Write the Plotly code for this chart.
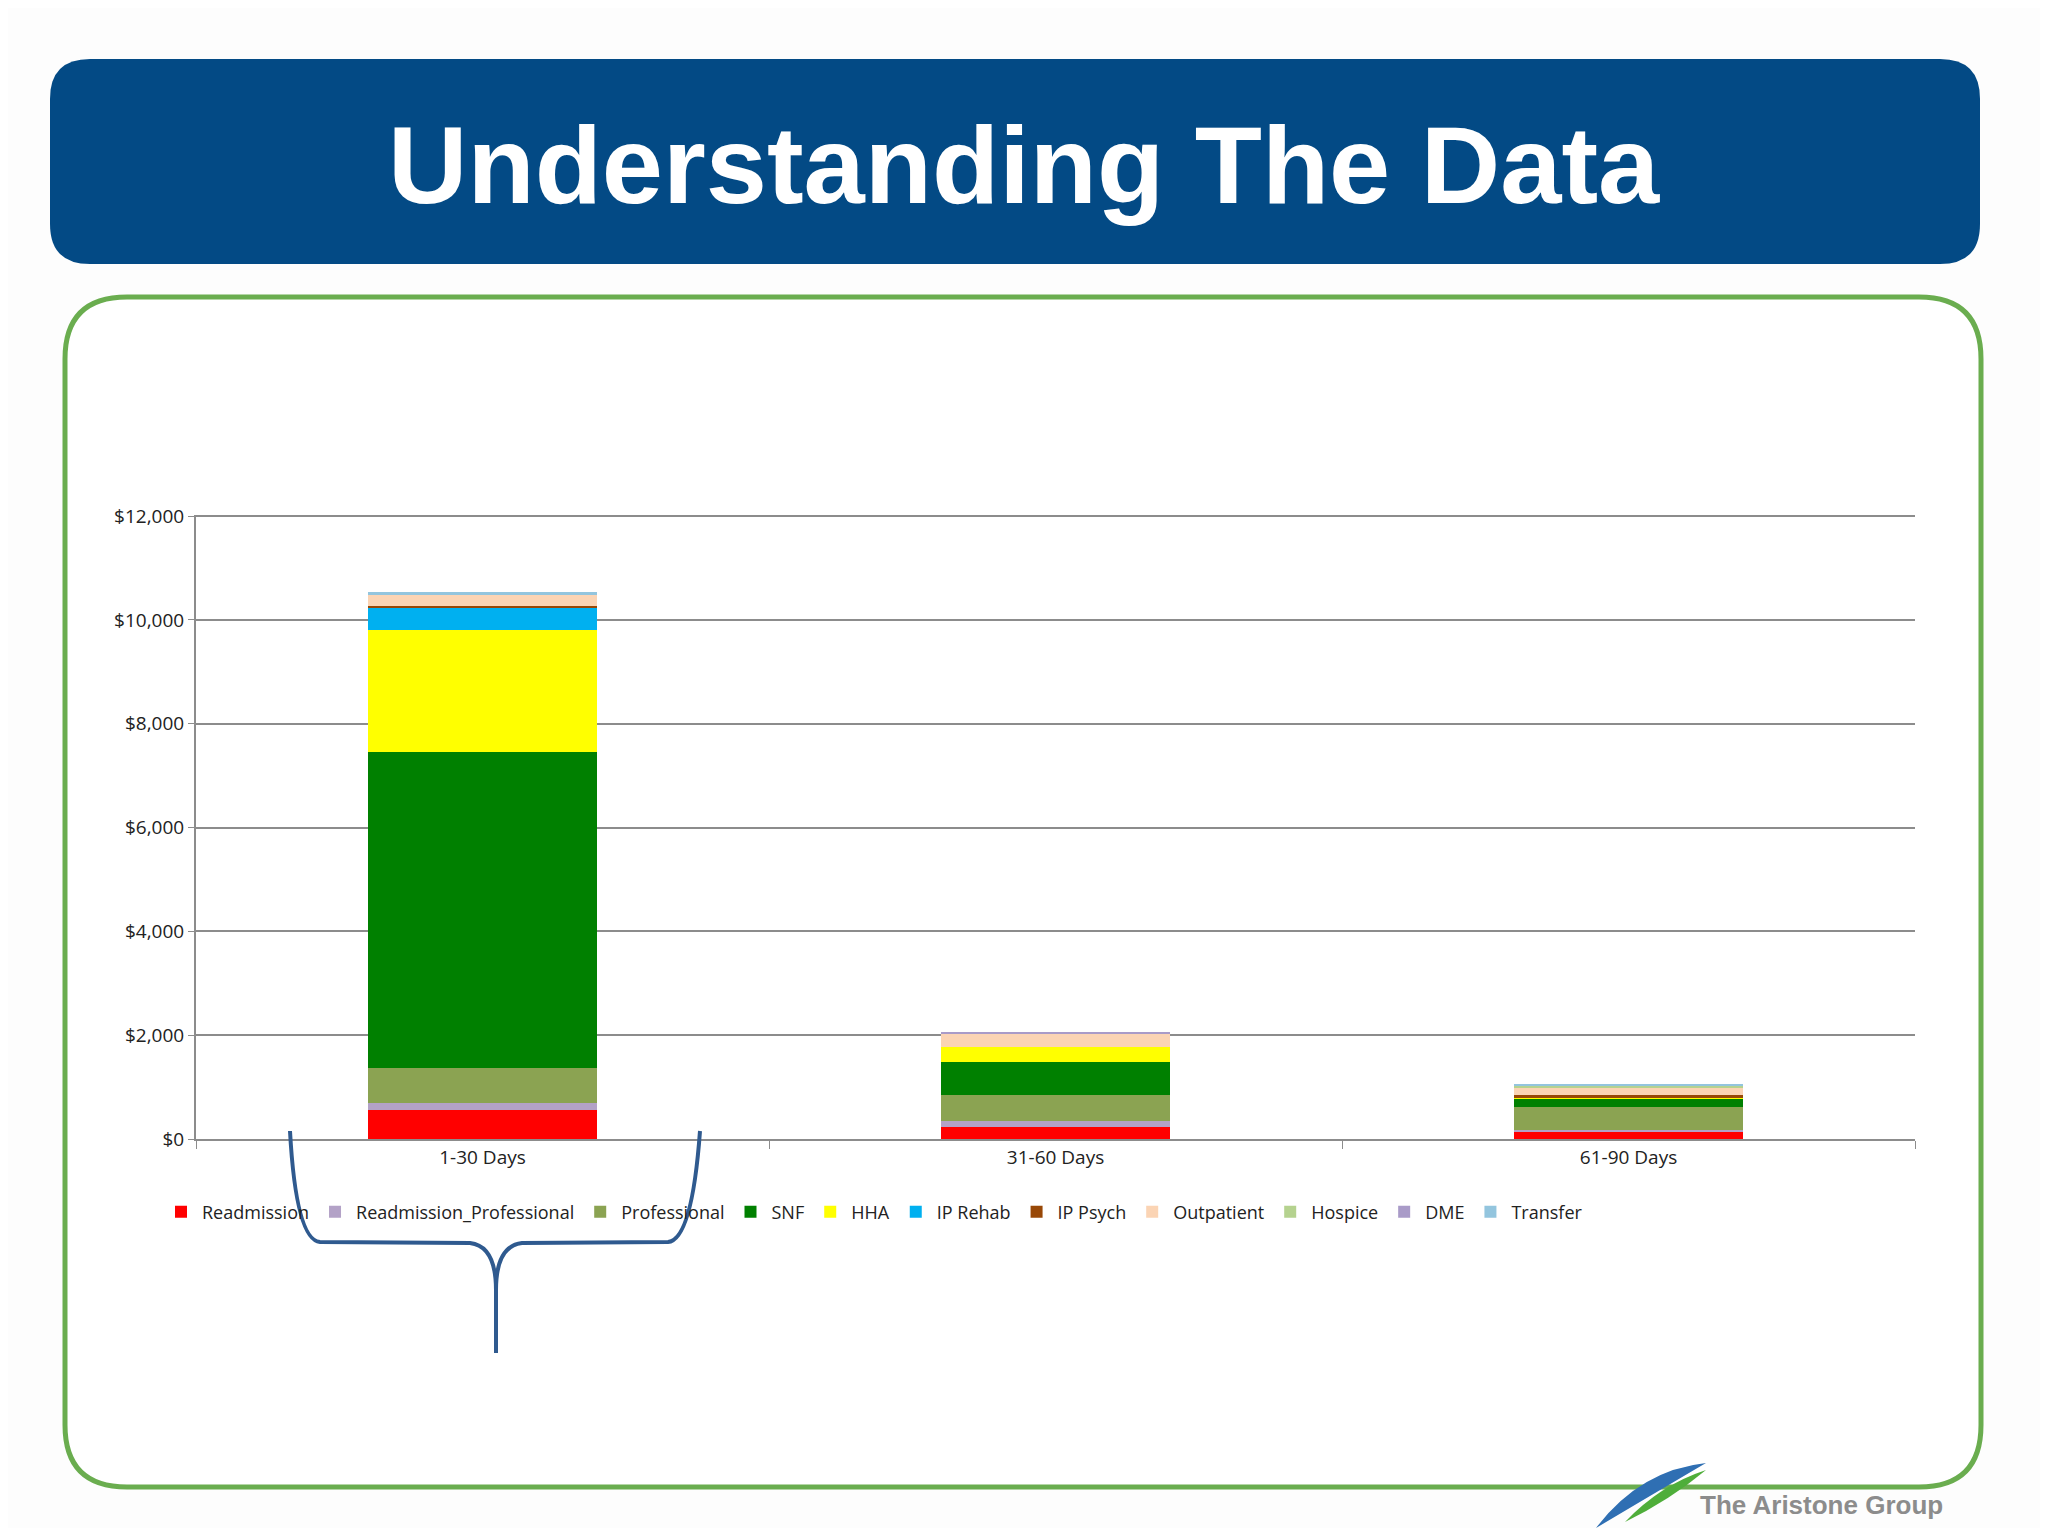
import plotly.graph_objects as go

W, H = 2048, 1536
OFF = 8  # page body margin
PL, PR, PT, PB = 196, 1915, 515, 1139  # plot area in pixels

categories = ["1-30 Days", "31-60 Days", "61-90 Days"]
series_names = ["Readmission", "Readmission_Professional", "Professional", "SNF", "HHA",
                "IP Rehab", "IP Psych", "Outpatient", "Hospice", "DME", "Transfer"]
readmission = [550, 229, 150]
readmission_prof = [150, 115, 20]
professional = [670, 503, 440]
snf = [6080, 644, 170]
hha = [2350, 274, 25]
ip_rehab = [420, 0, 0]
ip_psych = [40, 0, 35]
outpatient = [216, 262, 152]
hospice = [0, 0, 30]
dme = [0, 25, 18]
transfer = [60, 0, 15]
series_values = [readmission, readmission_prof, professional, snf, hha,
                 ip_rehab, ip_psych, outpatient, hospice, dme, transfer]
colors = ["#FF0000", "#B3A2C7", "#8BA352", "#008000", "#FFFF00",
          "#00B0F0", "#984807", "#FBD4B4", "#B5D28F", "#A99BC8", "#93C5DE"]
y_ticks = [0, 2000, 4000, 6000, 8000, 10000, 12000]
y_tick_labels = ["$0", "$2,000", "$4,000", "$6,000", "$8,000", "$10,000", "$12,000"]


def px(x):
    return (x - PL) / (PR - PL)


def py(y):
    return (PB - y) / (PB - PT)


fig = go.Figure()
for name, vals, col in zip(series_names, series_values, colors):
    fig.add_trace(go.Bar(x=categories, y=vals, name=name, marker_color=col,
                         marker_line_width=0))

# bracket under the first bar
bracket = ("M {},{} Q {},{} {},{} L {},{} Q {},{} {},{} L {},{} "
           "M {},{} Q {},{} {},{} L {},{} Q {},{} {},{}").format(
    px(290), py(1131), px(296), py(1240), px(320), py(1242),
    px(470), py(1243), px(496), py(1246), px(496), py(1290),
    px(496), py(1353),
    px(496), py(1290), px(496), py(1246), px(522), py(1243),
    px(668), py(1242), px(692), py(1240), px(700), py(1131))


def rounded(x0, y0, x1, y1, r):
    pts = [(x0 + r, y0), (x1 - r, y0), (x1, y0), (x1, y0 + r), (x1, y1 - r), (x1, y1),
           (x1 - r, y1), (x0 + r, y1), (x0, y1), (x0, y1 - r), (x0, y0 + r), (x0, y0),
           (x0 + r, y0)]
    p = [(px(a), py(b)) for a, b in pts]
    return ("M {},{} L {},{} Q {},{} {},{} L {},{} Q {},{} {},{} L {},{} "
            "Q {},{} {},{} L {},{} Q {},{} {},{} Z").format(*[c for xy in p for c in xy])


shapes = [
    dict(type="path", xref="paper", yref="paper", layer="below",
         path=rounded(50, 59, 1980, 264, 40), fillcolor="#034A85", line=dict(width=0)),
    dict(type="path", xref="paper", yref="paper", layer="below",
         path=rounded(65, 297, 1981, 1487, 62), fillcolor="white",
         line=dict(color="#6AAD4F", width=5)),
    dict(type="path", xref="paper", yref="paper", path=bracket,
         line=dict(color="#2F5A8F", width=4)),
    dict(type="path", xref="paper", yref="paper",
         path="M {},{} Q {},{} {},{} Q {},{} {},{} Z".format(
             px(1596), py(1528), px(1640), py(1470), px(1706), py(1463),
             px(1660), py(1490), px(1596), py(1528)),
         fillcolor="#2F6FB3", line=dict(width=0)),
    dict(type="path", xref="paper", yref="paper",
         path="M {},{} Q {},{} {},{} Q {},{} {},{} Z".format(
             px(1625), py(1522), px(1660), py(1485), px(1706), py(1470),
             px(1670), py(1500), px(1625), py(1522)),
         fillcolor="#4FAE3A", line=dict(width=0)),
]

fig.update_layout(
    width=W - 2 * OFF, height=H - 2 * OFF,
    margin=dict(l=PL - OFF, r=W - OFF - PR, t=PT - OFF, b=H - OFF - PB, pad=0),
    paper_bgcolor="#FDFDFD", plot_bgcolor="rgba(0,0,0,0)",
    barmode="stack", bargap=0.6,
    font=dict(family="Open Sans, Liberation Sans", size=19, color="#222"),
    shapes=shapes,
    legend=dict(orientation="h", x=px(160), xanchor="left", y=py(1212), yanchor="middle",
                traceorder="normal", font=dict(size=18), itemwidth=32,
                bgcolor="rgba(0,0,0,0)"),
    annotations=[
        dict(text="<b>Understanding The Data</b>", xref="paper", yref="paper",
             x=px(1024), y=py(164), xanchor="center", yanchor="middle", showarrow=False,
             font=dict(family="Liberation Sans, Arial", size=110, color="white")),
        dict(text="<b>The Aristone Group</b>", xref="paper", yref="paper",
             x=px(1698), y=py(1505), xanchor="left", yanchor="middle", showarrow=False,
             font=dict(family="Liberation Sans, Arial", size=26, color="#8C8C8C")),
    ],
)
fig.update_yaxes(range=[0, 12020], tickvals=y_ticks, ticktext=y_tick_labels,
                 showgrid=True, gridcolor="#8C8C8C", gridwidth=2,
                 showline=True, linecolor="#8C8C8C", linewidth=2,
                 ticks="outside", ticklen=6, tickcolor="#8C8C8C", zeroline=False)
fig.update_xaxes(showline=True, linecolor="#8C8C8C", linewidth=2,
                 ticks="outside", tickson="boundaries", ticklen=8, tickcolor="#8C8C8C")

fig.write_html("out.html")
